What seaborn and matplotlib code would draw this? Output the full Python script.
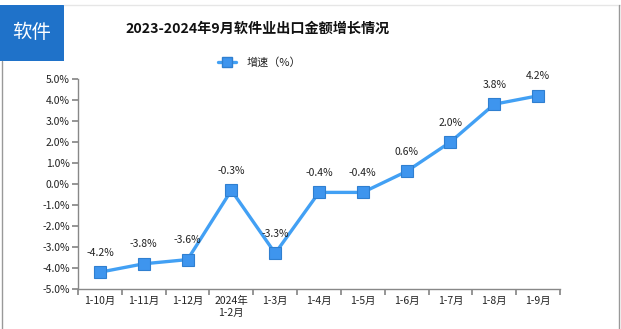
import matplotlib
matplotlib.use("Agg")
import matplotlib.pyplot as plt
import matplotlib.patches as mpatches
from matplotlib.lines import Line2D
import numpy as np
import pandas as pd
import seaborn as sns

categories = ["1-10月", "1-11月", "1-12月", "2024年\n1-2月", "1-3月", "1-4月",
              "1-5月", "1-6月", "1-7月", "1-8月", "1-9月"]
growth = [-4.2, -3.8, -3.6, -0.3, -3.3, -0.4, -0.4, 0.6, 2.0, 3.8, 4.2]
y_ticks = [-5.0, -4.0, -3.0, -2.0, -1.0, 0.0, 1.0, 2.0, 3.0, 4.0, 5.0]

sns.set_theme(style="white")
plt.rcParams["font.family"] = ["Noto Sans CJK SC", "DejaVu Sans"]

W, H = 621, 329
fig = plt.figure(figsize=(W / 100, H / 100), dpi=100)
ax = fig.add_axes([78 / W, 1 - 289 / H, (560 - 78) / W, (289 - 79) / H])

df = pd.DataFrame({"pos": np.arange(len(categories)), "growth": growth})
line_color = "#42a0f4"
sns.lineplot(data=df, x="pos", y="growth", ax=ax, color=line_color, lw=2.4,
             marker="s", markersize=8, markerfacecolor="#3e95ee",
             markeredgecolor="#2f7fd0", markeredgewidth=0.8)

for i, v in enumerate(growth):
    ax.annotate(f"{v:.1f}%", (i, v), xytext=(0, 14), textcoords="offset points",
                ha="center", va="center", fontsize=7.5, color="#222222")

ax.set_xlim(-0.5, len(categories) - 0.5)
ax.set_ylim(-5, 5)
ax.set_yticks(y_ticks)
ax.set_yticklabels([f"{t:.1f}%" for t in y_ticks], fontsize=7.5, color="#222222")
ax.set_xticks(np.arange(-0.5, len(categories), 1.0))
ax.set_xticklabels([])
ax.set_xticks(np.arange(len(categories)), minor=True)
ax.set_xticklabels(categories, minor=True, fontsize=7.5, color="#222222",
                   linespacing=1.3, va="top")
ax.tick_params(axis="x", which="minor", length=0, pad=5)
ax.tick_params(axis="x", which="major", length=4, color="#888888", direction="out",
               bottom=True)
ax.tick_params(axis="y", length=4, color="#888888", direction="out", left=True, pad=2)
ax.set_xlabel("")
ax.set_ylabel("")
for s in ["top", "right"]:
    ax.spines[s].set_visible(False)
for s in ["left", "bottom"]:
    ax.spines[s].set_color("#888888")
    ax.spines[s].set_linewidth(1.0)
ax.grid(False)

# outer frame lines
fig.add_artist(Line2D([64 / W, 1.0], [1 - 5 / H, 1 - 5 / H], color="#e6e6e6", lw=1))
fig.add_artist(Line2D([1.5 / W, 1.5 / W], [0, 1 - 61 / H], color="#999999", lw=1))
fig.add_artist(Line2D([619 / W, 619 / W], [0, 1 - 5 / H], color="#999999", lw=1))

# section badge
fig.add_artist(mpatches.Rectangle((0, 1 - 61 / H), 64 / W, 56 / H,
                                  transform=fig.transFigure, color="#1f72c9", lw=0))
fig.text(32 / W, 1 - 33 / H, "软件", color="white", fontsize=14,
         ha="center", va="center")

fig.text(258 / W, 1 - 29 / H, "2023-2024年9月软件业出口金额增长情况",
         fontsize=10.2, fontweight="bold", ha="center", va="center", color="#111111")

# legend: line segment with a centred square marker
fig.add_artist(Line2D([218 / W, 236 / W], [1 - 62 / H, 1 - 62 / H], color=line_color,
                      lw=2.4))
fig.add_artist(Line2D([227 / W], [1 - 62 / H], color=line_color, lw=0,
                      marker="s", markersize=7,
                      markerfacecolor="#3e95ee", markeredgecolor="#2f7fd0"))
fig.text(247 / W, 1 - 62 / H, "增速（%）", fontsize=8, ha="left", va="center",
         color="#222222")

fig.savefig("out.png", dpi=100)
